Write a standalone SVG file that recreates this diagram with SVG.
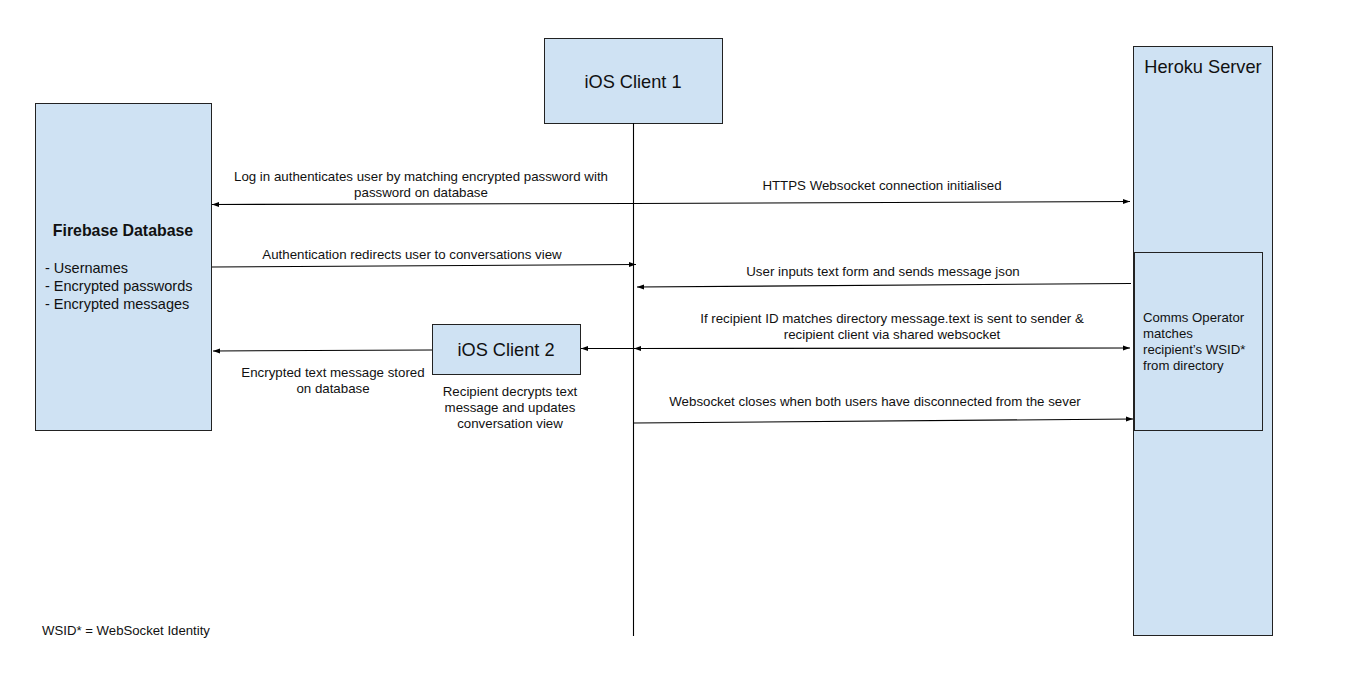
<svg xmlns="http://www.w3.org/2000/svg" width="1365" height="696" viewBox="0 0 1365 696">
<style>
.box{fill:#cfe2f3;stroke:#222;stroke-width:1}
.t{font-family:"Liberation Sans",Arial,sans-serif;fill:#111}
.lbl{font-size:13.3px;text-anchor:middle}
.big{font-size:18.2px;text-anchor:middle}
.ln{stroke:#000;stroke-width:1.1;fill:none}
</style>
<defs>
<marker id="ah" viewBox="0 0 10 10" refX="10" refY="5" markerWidth="7" markerHeight="7" orient="auto-start-reverse" markerUnits="userSpaceOnUse">
<path d="M0,1.5 L10,5 L0,8.5 z" fill="#000"/>
</marker>
</defs>
<rect width="1365" height="696" fill="#fff"/>

<g id="firebase">
<rect class="box" x="35.5" y="103.5" width="176" height="327"/>
<text class="t" x="123" y="236" font-size="15.9" font-weight="bold" text-anchor="middle">Firebase Database</text>
<text class="t" x="45" y="273" font-size="14.5">- Usernames</text>
<text class="t" x="45" y="291" font-size="14.5">- Encrypted passwords</text>
<text class="t" x="45" y="309" font-size="14.5">- Encrypted messages</text>
</g>

<g id="client1">
<rect class="box" x="544.5" y="38.5" width="178" height="85"/>
<text class="t big" x="633" y="88">iOS Client 1</text>
</g>

<g id="heroku">
<rect class="box" x="1133.5" y="46.5" width="139" height="589"/>
<text class="t big" x="1203" y="73">Heroku Server</text>
</g>

<g id="comms">
<rect class="box" x="1134.5" y="252.5" width="128" height="178"/>
<text class="t" x="1143" y="322" font-size="13.2">Comms Operator</text>
<text class="t" x="1143" y="338" font-size="13.2">matches</text>
<text class="t" x="1143" y="354" font-size="13.2">recipient’s WSID*</text>
<text class="t" x="1143" y="370" font-size="13.2">from directory</text>
</g>

<g id="client2">
<rect class="box" x="432.5" y="324.5" width="148" height="50"/>
<text class="t big" x="506" y="356">iOS Client 2</text>
</g>

<g id="connectors">
<line class="ln" x1="633.5" y1="123" x2="633.5" y2="636"/>
<line class="ln" x1="633" y1="203.5" x2="212" y2="204.5" marker-end="url(#ah)"/>
<line class="ln" x1="633" y1="203.5" x2="1130" y2="201.5" marker-end="url(#ah)"/>
<line class="ln" x1="212" y1="267" x2="636" y2="264.5" marker-end="url(#ah)"/>
<line class="ln" x1="1131" y1="283.5" x2="637" y2="287" marker-end="url(#ah)"/>
<line class="ln" x1="634" y1="348.5" x2="1130" y2="348" marker-start="url(#ah)" marker-end="url(#ah)"/>
<line class="ln" x1="633" y1="348.5" x2="581" y2="348.5" marker-end="url(#ah)"/>
<line class="ln" x1="432" y1="350" x2="213" y2="351" marker-end="url(#ah)"/>
<line class="ln" x1="634" y1="423" x2="1133" y2="419" marker-end="url(#ah)"/>
</g>

<g id="labels">
<text class="t lbl" x="421" y="181">Log in authenticates user by matching encrypted password with</text>
<text class="t lbl" x="421" y="197">password on database</text>
<text class="t lbl" x="882" y="190">HTTPS Websocket connection initialised</text>
<text class="t lbl" x="412" y="259">Authentication redirects user to conversations view</text>
<text class="t lbl" x="883" y="276">User inputs text form and sends message json</text>
<text class="t lbl" x="892" y="323">If recipient ID matches directory message.text is sent to sender &amp;</text>
<text class="t lbl" x="892" y="339">recipient client via shared websocket</text>
<text class="t lbl" x="875" y="406">Websocket closes when both users have disconnected from the sever</text>
<text class="t lbl" x="333" y="377">Encrypted text message stored</text>
<text class="t lbl" x="333" y="393">on database</text>
<text class="t lbl" x="510" y="396">Recipient decrypts text</text>
<text class="t lbl" x="510" y="412">message and updates</text>
<text class="t lbl" x="510" y="428">conversation view</text>
<text class="t" x="42" y="635" font-size="13.2">WSID* = WebSocket Identity</text>
</g>
</svg>
